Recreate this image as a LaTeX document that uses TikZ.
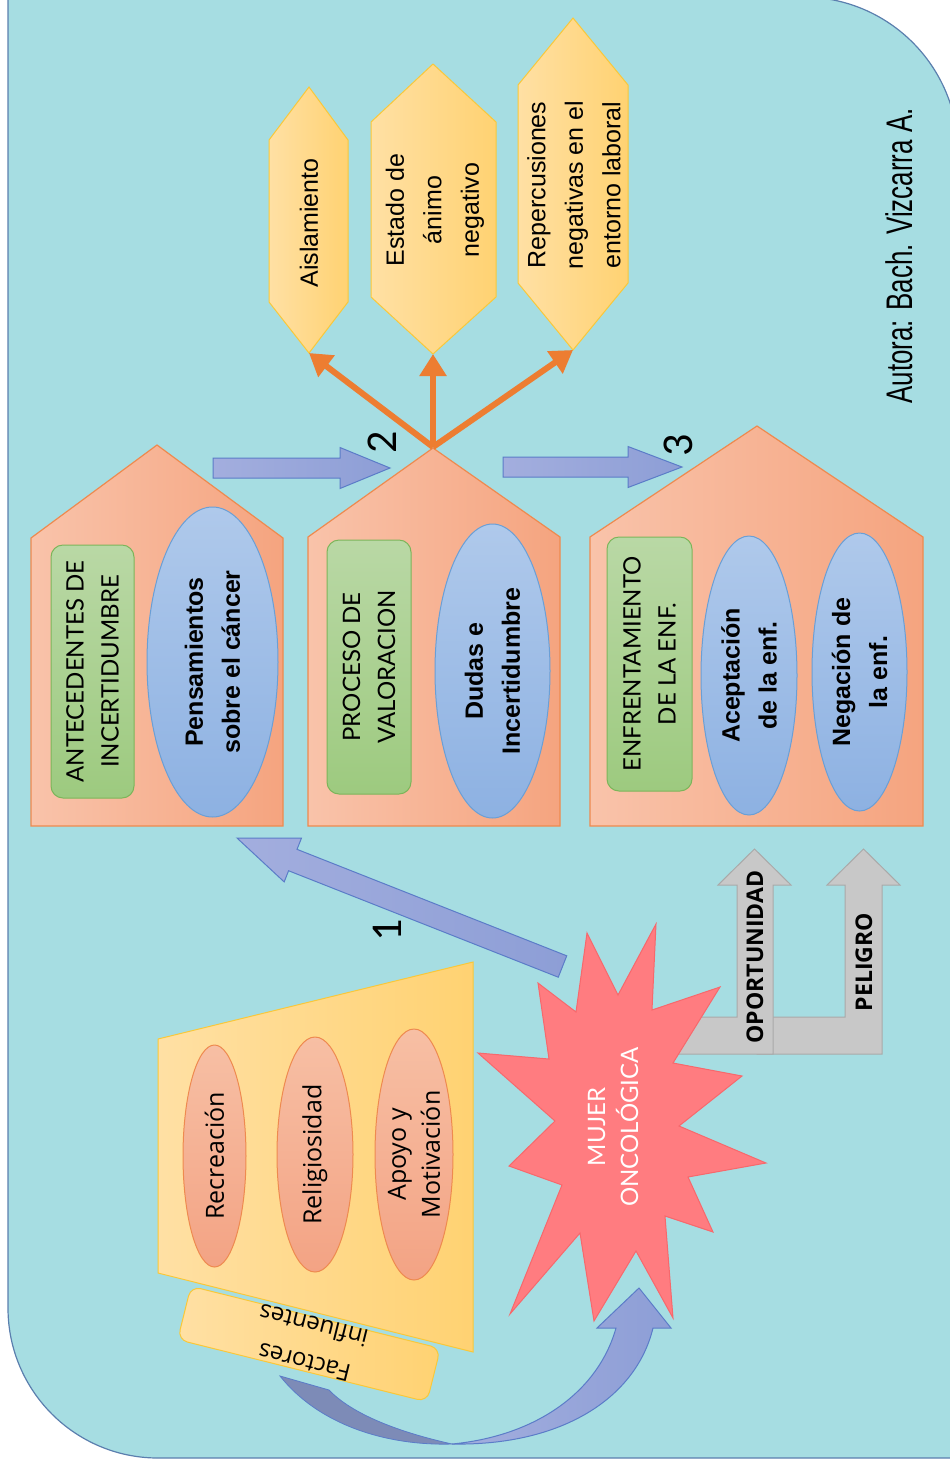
\documentclass[tikz,border=0pt]{standalone}
\usepackage{fontspec}
\setmainfont{Liberation Sans}
\newfontfamily\latofont{Lato}
\newfontfamily\opensansfont{Open Sans}
\newfontfamily\carlitofont{Carlito}
\newfontfamily\narrowfont[FakeStretch=0.7]{Liberation Sans}
\usetikzlibrary{arrows.meta,calc,shapes.geometric}
\definecolor{panelfill}{HTML}{A6DDE2}
\definecolor{panelline}{HTML}{5B7FAE}
\definecolor{houseL}{HTML}{F9C3AA}
\definecolor{houseR}{HTML}{F5A47F}
\definecolor{houseline}{HTML}{EE8A4F}
\definecolor{greenL}{HTML}{B9D8A5}
\definecolor{greenR}{HTML}{9DCA7F}
\definecolor{greenline}{HTML}{7CB55A}
\definecolor{blueL}{HTML}{AFC9EB}
\definecolor{blueR}{HTML}{8DB1E2}
\definecolor{blueline}{HTML}{6A9FD6}
\definecolor{goldL}{HTML}{FFE0A4}
\definecolor{goldR}{HTML}{FFD272}
\definecolor{goldline}{HTML}{F9C83A}
\definecolor{peachL}{HTML}{F7BFA4}
\definecolor{peachR}{HTML}{F3A384}
\definecolor{starred}{HTML}{FF7C80}
\definecolor{starline}{HTML}{F7686C}
\definecolor{flowL}{HTML}{A3AEDE}
\definecolor{flowR}{HTML}{8D9ED6}
\definecolor{flowline}{HTML}{5B7CC8}
\definecolor{flowdark}{HTML}{7D8BB7}
\definecolor{effect}{HTML}{ED7D31}
\definecolor{grayfill}{HTML}{C8C8C8}
\definecolor{grayline}{HTML}{A9A9A9}
% block arrow: style, tail, tip, half shaft, half head, head length
\newcommand{\blockarrow}[6]{%
  \coordinate (#3-hb) at ($(#3)!#6!(#2)$);
  \path[#1] ($(#2)!#4!90:(#3)$) -- ($(#3-hb)!#4!90:(#3)$) -- ($(#3-hb)!#5!90:(#3)$)
    -- (#3) -- ($(#3-hb)!#5!-90:(#3)$) -- ($(#3-hb)!#4!-90:(#3)$)
    -- ($(#2)!#4!-90:(#3)$) -- cycle;}

\begin{document}
\begin{tikzpicture}[x=1pt, y=-1pt,
    panel/.style={fill=panelfill, draw=panelline, line width=1.2pt},
    house/.style={draw=houseline, line width=1.2pt, left color=houseL, right color=houseR},
    stagebox/.style={draw=greenline, line width=1pt, rounded corners=12pt, top color=greenL, bottom color=greenR,
        rotate=90, inner sep=0pt, align=center, font=\latofont\fontsize{24}{35}\selectfont},
    thought/.style={ellipse, draw=blueline, line width=1pt, top color=blueL, bottom color=blueR,
        rotate=90, inner sep=0pt, align=center, font=\bfseries\fontsize{25}{37}\selectfont},
    effectbox/.style={draw=goldline, line width=1pt, left color=goldL, right color=goldR},
    effecttext/.style={rotate=90, align=center, font=\fontsize{25}{37.5}\selectfont},
    effectarrow/.style={-{Triangle[length=22pt,width=26pt]}, line width=6pt, draw=effect},
    flow/.style={draw=flowline, line width=1pt, left color=flowL, right color=flowR},
    flowback/.style={draw=flowline, line width=0.8pt, fill=flowdark},
    stepnum/.style={rotate=90, inner sep=0pt, font=\carlitofont\fontsize{44}{44}\selectfont},
    bentarrow/.style={fill=grayfill, draw=grayline, line width=1pt},
    risklabel/.style={rotate=90, inner sep=0pt, font=\opensansfont\bfseries\fontsize{23}{28}\selectfont},
    factor/.style={ellipse, draw=houseline, line width=1pt, top color=peachL, bottom color=peachR,
        rotate=90, inner sep=0pt, align=center, font=\opensansfont\fontsize{25}{34}\selectfont},
    burst/.style={fill=starred, draw=starline, line width=1pt}
]
\useasboundingbox (0,0) rectangle (950,1460);

% Background panel
\path[panel] (8,-3) -- (803,-3) .. controls (888.6,-3) and (958,66.4) .. (958,152)
    -- (958,1458) -- (158,1458) .. controls (75.2,1458) and (8,1390.8) .. (8,1308) -- cycle;

% Effects (hexagons)
\path[effectbox] (309,87) -- (348,140) -- (348,302) -- (309,353) -- (269,302) -- (269,140) -- cycle;
\coordinate (aisTip) at (309,353);
\node[effecttext] (aislamiento) at (309,223) {Aislamiento};
\path[effectbox] (433,64) -- (496,122) -- (496,297) -- (433,354) -- (371,297) -- (371,122) -- cycle;
\coordinate (animoTip) at (433,354);
\node[effecttext] (animo) at (435,210) {Estado de\\ánimo\\negativo};
\path[effectbox] (573,18) -- (628,85) -- (628,283) -- (573,350) -- (518,283) -- (518,85) -- cycle;
\coordinate (laboralTip) at (573,350);
\node[effecttext] (laboral) at (574,185) {Repercusiones\\negativas en el\\entorno laboral};

% Stage houses
\path[house] (31,826) -- (31,538) -- (157,445) -- (283,538) -- (283,826) -- cycle;
\path[house] (308,826) -- (308,537) -- (433,448) -- (560,537) -- (560,826) -- cycle;
\coordinate (valApex) at (433,447);
\path[house] (590,826) -- (590,537) -- (757,426) -- (923,537) -- (923,826) -- cycle;

\node[stagebox, minimum width=253pt, minimum height=83pt] (antecedentes) at (92.5,671.5) {ANTECEDENTES DE\\INCERTIDUMBRE};
\node[thought, minimum width=310pt, minimum height=131pt] (pensamientos) at (212.5,662) {Pensamientos\\sobre el cáncer};
\node[stagebox, minimum width=254pt, minimum height=84pt] (valoracion) at (369,667) {PROCESO DE\\VALORACION};
\node[thought, minimum width=294pt, minimum height=115pt] (dudas) at (492.5,671) {Dudas e\\Incertidumbre};
\node[stagebox, minimum width=254pt, minimum height=85pt] (enfrentamiento) at (649.5,664) {ENFRENTAMIENTO\\DE LA ENF.};
\node[thought, minimum width=279pt, minimum height=96pt] (aceptacion) at (749,675.5) {Aceptación\\de la enf.};
\node[thought, minimum width=278pt, minimum height=95pt] (negacion) at (859.5,672) {Negación de\\la enf.};

% Effects of doubt
\draw[effectarrow] (valApex) -- (aisTip);
\draw[effectarrow] (valApex) -- (animoTip);
\draw[effectarrow] (valApex) -- (laboralTip);

% Steps 2 and 3
\coordinate (arrAtail) at (213,468);
\coordinate (arrAtip) at (390,468);
\blockarrow{flow}{arrAtail}{arrAtip}{10pt}{20.5pt}{50pt}
\node[stepnum] (two) at (382,442) {2};
\coordinate (arrBtail) at (503,467);
\coordinate (arrBtip) at (682,467);
\blockarrow{flow}{arrBtail}{arrBtip}{10pt}{20.5pt}{54pt}
\node[stepnum] (three) at (678,445) {3};

% Danger and opportunity
\path[bentarrow] (757,1017) -- (845,1017) -- (845,885) -- (827,885) -- (863.5,849) -- (900,885)
    -- (882,885) -- (882,1054) -- (757,1054) -- cycle;
\path[bentarrow] (650,1017) -- (737,1017) -- (737,885) -- (718,885) -- (754.5,849) -- (791,885)
    -- (773,885) -- (773,1054) -- (650,1054) -- cycle;
\node[risklabel] (oportunidad) at (755,957) {OPORTUNIDAD};
\node[risklabel] (peligro) at (864,962) {PELIGRO};

% Step 1
\coordinate (arr1tail) at (562.5,966.5);
\coordinate (arr1tip) at (237,838);
\blockarrow{flow}{arr1tail}{arr1tip}{11.5pt}{23.5pt}{60pt}
\node[stepnum] (one) at (387,930) {1};

% Oncology patient
\path[burst] (656,924) -- (652,1010) -- (720,987) -- (673,1063) -- (742,1076) -- (679,1126)
    -- (766,1163) -- (688,1177) -- (713,1232) -- (665,1216) -- (673,1318) -- (636,1251)
    -- (594,1321) -- (580,1233) -- (510,1314) -- (562,1185) -- (509,1166) -- (555,1121)
    -- (478,1053) -- (549,1059) -- (538,983) -- (576,1012) -- (587,933) -- (618,995) -- cycle;
\node[rotate=90, align=center, text=white, font=\latofont\fontsize{24}{33}\selectfont] (mujer) at (613,1127) {MUJER\\ONCOLÓGICA};

% Influencing factors
\coordinate (burstFoot) at (639,1288);
\path[flowback] (280,1376) .. controls (318,1424) and (385,1446) .. (452,1444)
    .. controls (398,1432) and (352,1414) .. (329,1390) -- cycle;
\path[flow] (452,1444) .. controls (562,1446) and (636,1398) .. (653,1328) -- (671,1328) -- (burstFoot)
    -- (597,1328) -- (616,1328) .. controls (598,1392) and (536,1436) .. (452,1444) -- cycle;
\node[draw=goldline, line width=1pt, rounded corners=10pt, left color=goldL, right color=goldR,
    rotate=-14, minimum width=257pt, minimum height=55pt] (factbox) at (309,1344) {};
\path[effectbox] (158,1039) -- (473,962) -- (473,1352) -- (158,1273) -- cycle;
\node[factor, minimum width=222pt, minimum height=63pt] (recreacion) at (214.5,1156) {Recreación};
\node[factor, minimum width=235pt, minimum height=76pt] (religiosidad) at (315,1154.5) {Religiosidad};
\node[factor, minimum width=251pt, minimum height=78pt] (apoyo) at (414,1154.5) {Apoyo y\\Motivación};
\node[rotate=166, align=center, font=\opensansfont\fontsize{24}{38}\selectfont] (factores) at (factbox) {Factores\\influentes};

% Author
\node[rotate=90, font=\narrowfont\fontsize{37}{40}\selectfont] (autora) at (899,256) {Autora: Bach. Vizcarra A.};

\end{tikzpicture}
\end{document}
